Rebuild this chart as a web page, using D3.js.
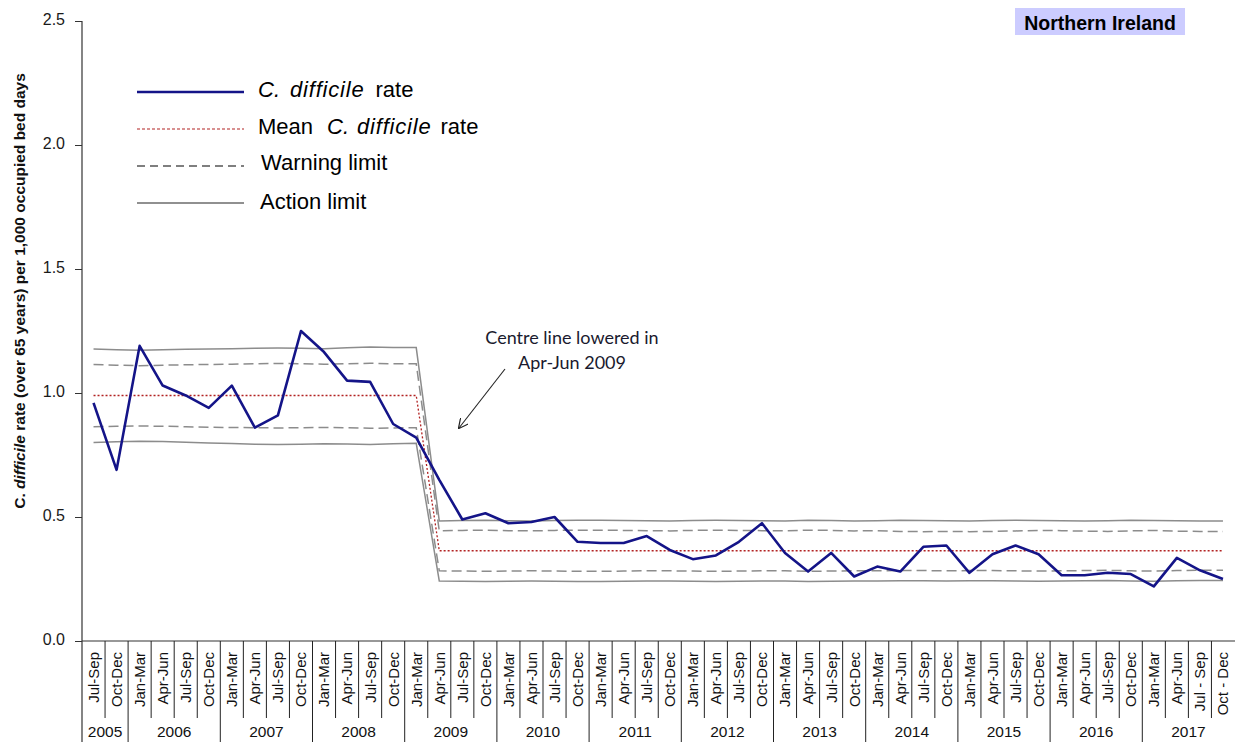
<!DOCTYPE html>
<html>
<head>
<meta charset="utf-8">
<script src="https://cdn.jsdelivr.net/npm/d3@7"></script>
<style>
  body { margin: 0; background: #fff; }
  svg { display: block; font-family: Arial, "Liberation Sans", sans-serif; }
</style>
</head>
<body>
<div id="chart"></div>
<script>
// quarters, Jul-Sep 2005 .. Oct-Dec 2017
const quarterLabels = [
  "Jul-Sep", "Oct-Dec",
  "Jan-Mar", "Apr-Jun", "Jul-Sep", "Oct-Dec",
  "Jan-Mar", "Apr-Jun", "Jul-Sep", "Oct-Dec",
  "Jan-Mar", "Apr-Jun", "Jul-Sep", "Oct-Dec",
  "Jan-Mar", "Apr-Jun", "Jul-Sep", "Oct-Dec",
  "Jan-Mar", "Apr-Jun", "Jul-Sep", "Oct-Dec",
  "Jan-Mar", "Apr-Jun", "Jul-Sep", "Oct-Dec",
  "Jan-Mar", "Apr-Jun", "Jul-Sep", "Oct-Dec",
  "Jan-Mar", "Apr-Jun", "Jul-Sep", "Oct-Dec",
  "Jan-Mar", "Apr-Jun", "Jul-Sep", "Oct-Dec",
  "Jan-Mar", "Apr-Jun", "Jul-Sep", "Oct-Dec",
  "Jan-Mar", "Apr-Jun", "Jul-Sep", "Oct-Dec",
  "Jan-Mar", "Apr-Jun", "Jul - Sep", "Oct - Dec"
]
const years = ["2005", "2006", "2007", "2008", "2009", "2010", "2011", "2012", "2013", "2014", "2015", "2016", "2017"]
const quartersPerYear = [2, 4, 4, 4, 4, 4, 4, 4, 4, 4, 4, 4, 4]

const rate = [
  0.96, 0.69,
  1.19, 1.03, 0.99, 0.94,
  1.03, 0.86, 0.91, 1.25,
  1.165, 1.05, 1.045, 0.875,
  0.82, 0.65, 0.49, 0.515,
  0.475, 0.48, 0.50, 0.40,
  0.395, 0.395, 0.423, 0.367,
  0.33, 0.345, 0.40, 0.475,
  0.355, 0.28, 0.355, 0.26,
  0.30, 0.28, 0.38, 0.385,
  0.275, 0.35, 0.385, 0.35,
  0.265, 0.265, 0.275, 0.27,
  0.22, 0.335, 0.285, 0.25
]
const meanRate = [
  0.99, 0.99, 0.99, 0.99, 0.99, 0.99, 0.99, 0.99, 0.99, 0.99, 0.99, 0.99, 0.99, 0.99, 0.99,
  0.364, 0.364, 0.364, 0.364, 0.364, 0.364, 0.364, 0.364, 0.364, 0.364, 0.364, 0.364,
  0.364, 0.364, 0.364, 0.364, 0.364, 0.364, 0.364, 0.364, 0.364, 0.364, 0.364, 0.364,
  0.364, 0.364, 0.364, 0.364, 0.364, 0.364, 0.364, 0.364, 0.364, 0.364, 0.364
]
const actionUpper = [
  1.177, 1.174, 1.172, 1.174, 1.176, 1.177, 1.178, 1.180, 1.181, 1.180, 1.178, 1.182, 1.185, 1.183, 1.183,
  0.484, 0.486, 0.487, 0.485, 0.484, 0.486, 0.487, 0.487, 0.486, 0.485, 0.484, 0.486,
  0.487, 0.486, 0.485, 0.484, 0.487, 0.486, 0.484, 0.485, 0.487, 0.486, 0.485, 0.484,
  0.486, 0.487, 0.486, 0.485, 0.484, 0.485, 0.487, 0.486, 0.485, 0.484, 0.484
]
const warningUpper = [
  1.115, 1.112, 1.110, 1.112, 1.114, 1.115, 1.116, 1.118, 1.119, 1.118, 1.116, 1.118, 1.120, 1.118, 1.118,
  0.444, 0.446, 0.447, 0.445, 0.444, 0.446, 0.447, 0.447, 0.446, 0.445, 0.444, 0.446,
  0.447, 0.446, 0.445, 0.444, 0.447, 0.446, 0.444, 0.445, 0.442, 0.441, 0.442, 0.441,
  0.442, 0.444, 0.446, 0.445, 0.443, 0.442, 0.444, 0.446, 0.443, 0.442, 0.442
]
const warningLower = [
  0.864, 0.866, 0.867, 0.866, 0.864, 0.862, 0.861, 0.860, 0.859, 0.860, 0.861, 0.860, 0.858, 0.859, 0.860,
  0.283, 0.282, 0.281, 0.282, 0.283, 0.282, 0.281, 0.281, 0.282, 0.283, 0.283, 0.282,
  0.281, 0.282, 0.283, 0.283, 0.281, 0.282, 0.283, 0.283, 0.284, 0.284, 0.283, 0.284,
  0.284, 0.283, 0.282, 0.283, 0.284, 0.285, 0.283, 0.282, 0.284, 0.285, 0.285
]
const actionLower = [
  0.800, 0.803, 0.805, 0.804, 0.801, 0.798, 0.796, 0.793, 0.792, 0.793, 0.795, 0.794, 0.792, 0.795, 0.797,
  0.242, 0.241, 0.240, 0.241, 0.242, 0.241, 0.240, 0.240, 0.241, 0.242, 0.242, 0.241,
  0.240, 0.241, 0.242, 0.242, 0.240, 0.241, 0.242, 0.242, 0.243, 0.243, 0.242, 0.243,
  0.243, 0.242, 0.241, 0.242, 0.243, 0.244, 0.242, 0.241, 0.243, 0.244, 0.244
]
const yTicks = [0, 0.5, 1.0, 1.5, 2.0, 2.5]

const width = 1235
const height = 742
const marginLeft = 82
const marginTop = 21
const axisY = 641 // baseline of the plot
const quarterSepBottom = 718

const rateColor = "#141488"
const meanColor = "#b22222"
const limitColor = "#8c8c8c"

const svg = d3.select("#chart").append("svg")
  .attr("width", width)
  .attr("height", height)
  .attr("viewBox", [0, 0, width, height])

const xScale = d3.scaleBand()
  .domain(d3.range(quarterLabels.length))
  .range([marginLeft, width - 0.5])
  .padding(0)
const xMid = i => xScale(i) + xScale.bandwidth() / 2
const yScale = d3.scaleLinear([0, 2.5], [axisY, marginTop])

// y axis
svg.append("g")
  .attr("transform", `translate(${marginLeft},0)`)
  .call(d3.axisLeft(yScale)
    .tickValues(yTicks)
    .tickFormat(d3.format(".1f"))
    .tickSize(7)
    .tickSizeOuter(0)
    .tickPadding(10))
  .call(g => g.select(".domain").remove())
  .call(g => g.selectAll(".tick line").attr("stroke", "#333"))
  .call(g => g.selectAll(".tick text")
    .attr("font-size", 16)
    .attr("font-family", "Arial, 'Liberation Sans', sans-serif")
    .attr("fill", "#1a1a1a")
    .attr("dy", "0.2em"))

svg.append("line")
  .attr("x1", marginLeft).attr("x2", marginLeft)
  .attr("y1", marginTop).attr("y2", height)
  .attr("stroke", "#333").attr("stroke-width", 1.2)

// y label
const yLab = svg.append("text")
  .attr("transform", `translate(25,291) rotate(-90)`)
  .attr("text-anchor", "middle")
  .attr("font-size", 15.5)
  .attr("font-weight", "bold")
  .attr("fill", "#111")
yLab.append("tspan").text("C. ")
yLab.append("tspan").attr("font-style", "italic").text("difficile")
yLab.append("tspan").text(" rate (over 65 years) per 1,000 occupied bed days")

// x axis: quarter labels
svg.append("g")
  .attr("transform", `translate(0,${axisY})`)
  .call(d3.axisBottom(xScale)
    .tickFormat(i => quarterLabels[i])
    .tickSize(0)
    .tickSizeOuter(0))
  .call(g => g.select(".domain").remove())
  .call(g => g.selectAll(".tick").attr("transform", i => `translate(${xMid(i)},0)`))
  .call(g => g.selectAll(".tick text")
    .attr("transform", "rotate(-90)")
    .attr("x", -11)
    .attr("y", 0)
    .attr("dy", "0.36em")
    .attr("text-anchor", "end")
    .attr("font-size", 15)
    .attr("font-family", "Arial, 'Liberation Sans', sans-serif")
    .attr("fill", "#111"))

svg.append("line")
  .attr("x1", marginLeft).attr("x2", width)
  .attr("y1", axisY).attr("y2", axisY)
  .attr("stroke", "#333").attr("stroke-width", 1.2)

// separators between quarters, longer ones between years
const yearStarts = d3.cumsum(quartersPerYear)
svg.append("g")
  .attr("stroke", "#222")
  .attr("stroke-width", 1)
  .selectAll("line")
  .data(d3.range(1, quarterLabels.length))
  .join("line")
  .attr("x1", i => xScale(i)).attr("x2", i => xScale(i))
  .attr("y1", axisY)
  .attr("y2", i => yearStarts.includes(i) ? height : quarterSepBottom)

// year labels
svg.append("g")
  .selectAll("text")
  .data(years)
  .join("text")
  .attr("x", (d, k) => {
    const first = k === 0 ? 0 : yearStarts[k - 1]
    const last = yearStarts[k] - 1
    return (xScale(first) + xScale(last) + xScale.bandwidth()) / 2
  })
  .attr("y", 737)
  .attr("text-anchor", "middle")
  .attr("font-size", 15.5)
  .attr("fill", "#111")
  .text(d => d)

// series lines
const lineOf = values => d3.line()
  .x((d, i) => xMid(i))
  .y(d => yScale(d))(values)

const limits = svg.append("g").attr("fill", "none")
limits.append("path").attr("d", lineOf(actionUpper))
  .attr("stroke", limitColor).attr("stroke-width", 1.5)
limits.append("path").attr("d", lineOf(actionLower))
  .attr("stroke", limitColor).attr("stroke-width", 1.5)
limits.append("path").attr("d", lineOf(warningUpper))
  .attr("stroke", limitColor).attr("stroke-width", 1.5).attr("stroke-dasharray", "10,5")
limits.append("path").attr("d", lineOf(warningLower))
  .attr("stroke", limitColor).attr("stroke-width", 1.5).attr("stroke-dasharray", "10,5")

svg.append("path")
  .attr("d", lineOf(meanRate))
  .attr("fill", "none")
  .attr("stroke", meanColor)
  .attr("stroke-width", 1.3)
  .attr("stroke-dasharray", "2,2")

svg.append("path")
  .attr("d", lineOf(rate))
  .attr("fill", "none")
  .attr("stroke", rateColor)
  .attr("stroke-width", 2.6)
  .attr("stroke-linejoin", "round")

// legend: each part = [text, italic, gap before]
const legendItems = [
  { parts: [["C.", true, 0], ["difficile", true, 10], ["rate", false, 11]], color: rateColor, width: 2.6, dash: null, y: 92, ty: 97, tx: 258 },
  { parts: [["Mean", false, 0], ["C.", true, 14], ["difficile", true, 8], ["rate", false, 9]], color: meanColor, width: 1.2, dash: "3,2", y: 129, ty: 134, tx: 258 },
  { parts: [["Warning limit", false, 0]], color: "#555", width: 1.5, dash: "8,5", y: 166, ty: 170, tx: 261 },
  { parts: [["Action limit", false, 0]], color: "#222", width: 1.2, dash: null, y: 203, ty: 209, tx: 260 }
]
const legend = svg.append("g")
legendItems.forEach(item => {
  legend.append("line")
    .attr("x1", 137).attr("x2", 244)
    .attr("y1", item.y).attr("y2", item.y)
    .attr("stroke", item.color)
    .attr("stroke-width", item.width)
    .attr("stroke-dasharray", item.dash)
  const t = legend.append("text")
    .attr("x", item.tx).attr("y", item.ty)
    .attr("font-size", 22)
    .attr("fill", "#000")
  item.parts.forEach(([s, it, gap]) => {
    t.append("tspan")
      .attr("font-style", it ? "italic" : null)
      .attr("letter-spacing", s === "difficile" ? 0.8 : null)
      .attr("dx", gap || null)
      .text(s)
  })
})

// region tag
svg.append("rect")
  .attr("x", 1015).attr("y", 8)
  .attr("width", 170).attr("height", 27)
  .attr("fill", "#ccccff")
svg.append("text")
  .attr("x", 1100).attr("y", 30)
  .attr("text-anchor", "middle")
  .attr("font-size", 19.5)
  .attr("font-weight", "bold")
  .attr("fill", "#000")
  .text("Northern Ireland")

// annotation
svg.append("defs").append("marker")
  .attr("id", "arrowhead")
  .attr("viewBox", "0 0 10 10")
  .attr("refX", 9).attr("refY", 5)
  .attr("markerWidth", 10).attr("markerHeight", 10)
  .attr("markerUnits", "userSpaceOnUse")
  .attr("orient", "auto")
  .append("path")
  .attr("d", "M0,0 L10,5 L0,10")
  .attr("fill", "none")
  .attr("stroke", "#222")
  .attr("stroke-width", 1.2)

svg.append("line")
  .attr("x1", 505).attr("y1", 369)
  .attr("x2", 459).attr("y2", 428)
  .attr("stroke", "#222")
  .attr("stroke-width", 1.1)
  .attr("marker-end", "url(#arrowhead)")

const note = svg.append("text")
  .attr("text-anchor", "middle")
  .attr("font-family", "Lato, 'Open Sans', sans-serif")
  .attr("font-size", 18)
  .attr("fill", "#1a1a2e")
note.append("tspan").attr("x", 572).attr("y", 344).text("Centre line lowered in")
note.append("tspan").attr("x", 572).attr("y", 369).text("Apr-Jun 2009")
</script>
</body>
</html>
